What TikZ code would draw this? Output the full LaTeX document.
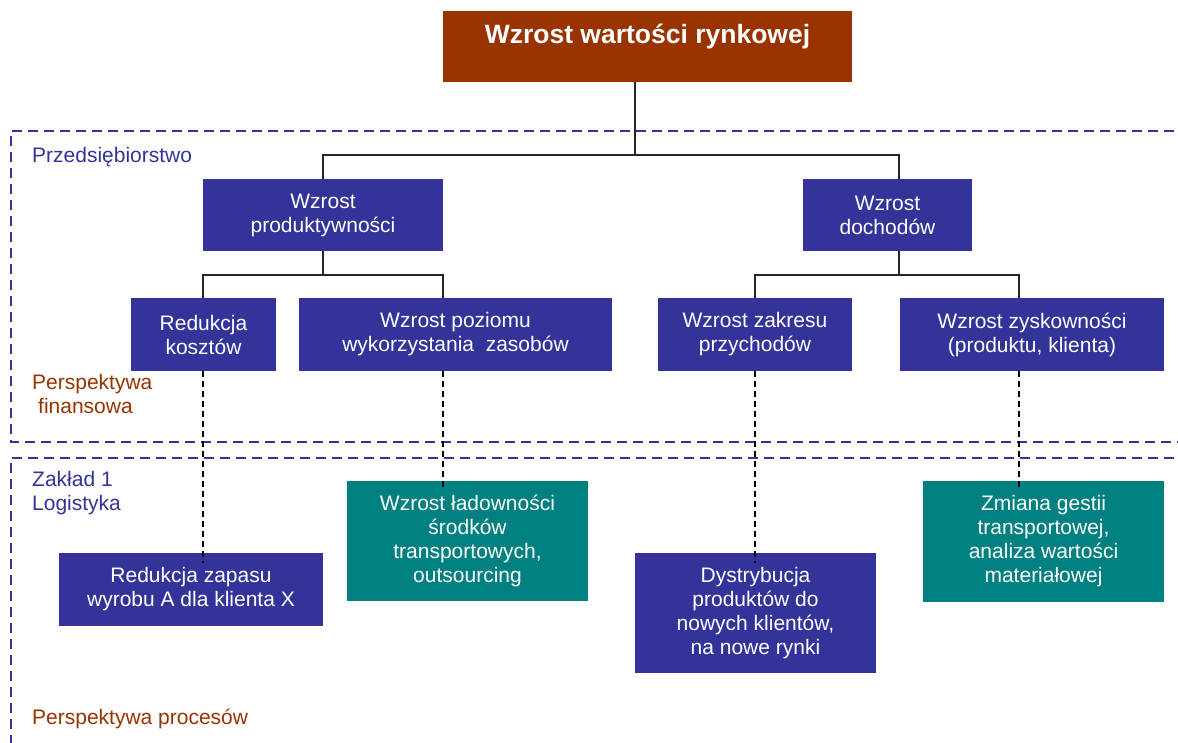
\documentclass[tikz,border=0pt]{standalone}
\usepackage{fontspec}
\setmainfont{Liberation Sans}
\definecolor{boxnavy}{HTML}{333399}
\definecolor{boxteal}{HTML}{008080}
\definecolor{boxbrown}{HTML}{993300}
\definecolor{framenavy}{HTML}{333399}
\definecolor{labnavy}{HTML}{333399}
\definecolor{labbrown}{HTML}{993300}
\begin{document}
\begin{tikzpicture}[x=1pt,y=-1pt,
  base/.style={rectangle, inner sep=0pt, align=center, text=white, font=\fontsize{21}{24}\selectfont},
  navybox/.style={base, fill=boxnavy},
  tealbox/.style={base, fill=boxteal},
  conn/.style={draw=black!85, line width=2pt},
  dconn/.style={draw=black, line width=2pt, dash pattern=on 6pt off 4pt},
  framel/.style={draw=framenavy, line width=2.2pt, dash pattern=on 10pt off 6pt},
  lbl/.style={anchor=west, inner sep=0pt, align=left, font=\fontsize{21}{24}\selectfont}]
\useasboundingbox (0,0) rectangle (1178,742);
\clip (0,0) rectangle (1178,742);
\fill[white] (0,0) rectangle (1178,742);

% frames
\draw[framel] (1190,131) -- (11,131) -- (11,442) -- (1190,442);
\draw[framel] (1190,458) -- (11,458) -- (11,760);

% labels
\node[lbl, text=labnavy] (przed) at (32,157) {Przedsiębiorstwo};
\node[lbl, text=labbrown] (finans) at (32,394) {Perspektywa\\\hspace*{6pt}finansowa};
\node[lbl, text=labnavy] (zaklad) at (32,493) {Zakład 1\\Logistyka};
\node[lbl, text=labbrown] (procesy) at (32,719) {Perspektywa procesów};

% title
\node[base, fill=boxbrown, minimum width=409, minimum height=71] (top) at (647.5,46.5) {};
\node[inner sep=0pt, text=white, font=\bfseries\fontsize{26.5}{30}\selectfont] (ttl) at (647.5,37) {Wzrost wartości rynkowej};

% level 2
\node[navybox, minimum width=240, minimum height=72] (prod) at (323,215) {Wzrost\\produktywności};
\node[navybox, minimum width=169, minimum height=72] (doch) at (887.5,215) {Wzrost\\dochodów};

% level 3
\node[navybox, minimum width=145, minimum height=73] (koszt) at (203.5,334.5) {Redukcja\\kosztów};
\node[navybox, minimum width=313, minimum height=73] (poziom) at (455.5,334.5) {Wzrost poziomu\\wykorzystania\ \ zasobów};
\node[navybox, minimum width=194, minimum height=73] (zakres) at (755,334.5) {Wzrost zakresu\\przychodów};
\node[navybox, minimum width=264, minimum height=73] (zysk) at (1032,334.5) {Wzrost zyskowności\\(produktu, klienta)};

% level 4
\node[navybox, minimum width=264, minimum height=73] (zapas) at (191,589.5) {Redukcja zapasu\\wyrobu A dla klienta X};
\node[tealbox, minimum width=241, minimum height=120] (ladow) at (467.5,541) {Wzrost ładowności\\środków\\transportowych,\\outsourcing};
\node[navybox, minimum width=241, minimum height=120] (dystr) at (755.5,613) {Dystrybucja\\produktów do\\nowych klientów,\\na nowe rynki};
\node[tealbox, minimum width=241, minimum height=121] (zmiana) at (1043.5,541.5) {Zmiana gestii\\transportowej,\\analiza wartości\\materiałowej};

% connector coordinates
\coordinate (tx) at (635,155);
\coordinate (dx) at (899,155);
\coordinate (lj) at (323,275);
\coordinate (rj) at (899,275);
\coordinate (xk) at (203,275);
\coordinate (xp) at (443,275);
\coordinate (xz) at (755,275);
\coordinate (xy) at (1019,275);

% solid connectors
\draw[conn] (tx |- top.south) -- (tx);
\draw[conn] (prod.north) -- (prod.north |- tx) -- (dx) -- (dx |- doch.north);
\draw[conn] (prod.south) -- (lj);
\draw[conn] (xk |- koszt.north) -- (xk) -- (xp) -- (xp |- poziom.north);
\draw[conn] (dx |- doch.south) -- (rj);
\draw[conn] (xz |- zakres.north) -- (xz) -- (xy) -- (xy |- zysk.north);

% dashed connectors
\draw[dconn] (xk |- koszt.south) -- ([yshift=-10pt]xk |- zapas.north);
\draw[dconn] (xp |- poziom.south) -- ([yshift=-6pt]xp |- ladow.north);
\draw[dconn] (xz |- zakres.south) -- ([yshift=-10pt]xz |- dystr.north);
\draw[dconn] (xy |- zysk.south) -- ([yshift=-6pt]xy |- zmiana.north);
\end{tikzpicture}
\end{document}
